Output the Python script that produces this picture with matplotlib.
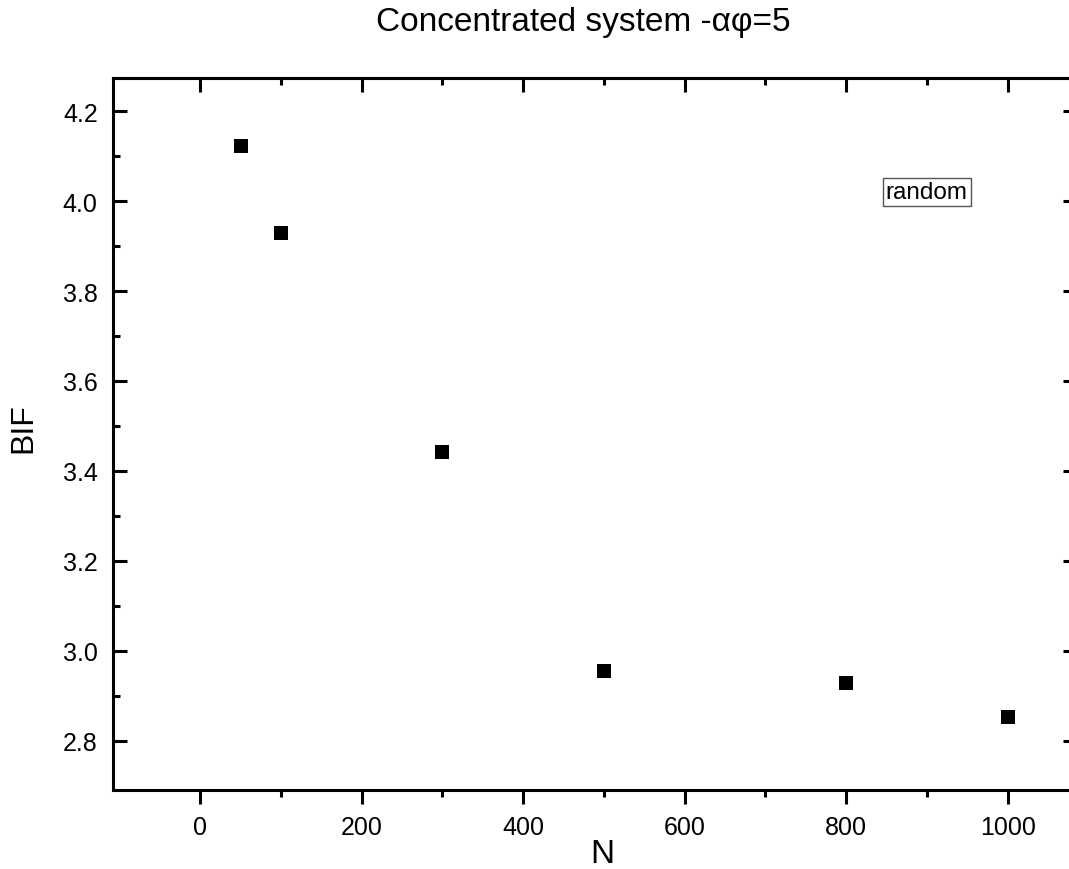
import matplotlib
matplotlib.use("Agg")
import matplotlib.pyplot as plt
from matplotlib.ticker import MultipleLocator, FixedLocator, FormatStrFormatter

plt.rcParams['font.family'] = ['Liberation Sans', 'DejaVu Sans']

N = [50, 100, 300, 500, 800, 1000]
BIF = [4.123, 3.93, 3.442, 2.955, 2.929, 2.853]

x_minor = [100, 300, 500, 700, 900]
y_minor = [2.9, 3.1, 3.3, 3.5, 3.7, 3.9, 4.1]

W, H = 1069, 870
fig = plt.figure(figsize=(W / 100, H / 100), dpi=100)
x0, x1 = 113 / W, 1077 / W
y0, y1 = 1 - 791 / H, 1 - 79 / H
ax = fig.add_axes([x0, y0, x1 - x0, y1 - y0])

ax.plot(N, BIF, linestyle='none', marker='s', markersize=10.5,
        color='black', markeredgewidth=0)

ax.set_xlim(-108, 1086)
ax.set_ylim(2.69, 4.274)
ax.xaxis.set_major_locator(MultipleLocator(200))
ax.xaxis.set_minor_locator(FixedLocator(x_minor))
ax.yaxis.set_major_locator(MultipleLocator(0.2))
ax.yaxis.set_minor_locator(FixedLocator(y_minor))
ax.yaxis.set_major_formatter(FormatStrFormatter('%.1f'))

for s in ax.spines.values():
    s.set_linewidth(2.2)

# left/right: inward ticks; bottom: outward ticks with labels
ax.tick_params(axis='y', which='both', direction='in', left=True, right=True, width=2.2)
ax.tick_params(axis='y', which='major', length=10, labelsize=18, pad=11)
ax.tick_params(axis='y', which='minor', length=5)
ax.tick_params(axis='x', which='both', direction='out', top=False, width=2.2)
ax.tick_params(axis='x', which='major', length=10, labelsize=18, pad=8)
ax.tick_params(axis='x', which='minor', length=5)

# top: inward ticks, no labels
top = ax.secondary_xaxis('top')
top.xaxis.set_major_locator(MultipleLocator(200))
top.xaxis.set_minor_locator(FixedLocator(x_minor))
top.tick_params(axis='x', which='both', direction='in', width=2.2, labeltop=False)
top.tick_params(axis='x', which='major', length=10)
top.tick_params(axis='x', which='minor', length=5)
top.spines['top'].set_linewidth(2.2)

ax.text(900, 4.02, 'random', fontsize=17.5, ha='center', va='center',
        bbox=dict(boxstyle='square,pad=0.12', facecolor='white',
                  edgecolor='#555555', linewidth=1.0))

fig.text(602 / W, 1 - 855 / H, 'N', fontsize=24, ha='center', va='center')
fig.text(23 / W, 1 - 428 / H, 'BIF', fontsize=23, ha='center', va='center',
         rotation=90)
fig.text(583 / W, 1 - 23 / H, 'Concentrated system -αφ=5', fontsize=24,
         ha='center', va='center')

fig.savefig('out.png', dpi=100, facecolor='white')
